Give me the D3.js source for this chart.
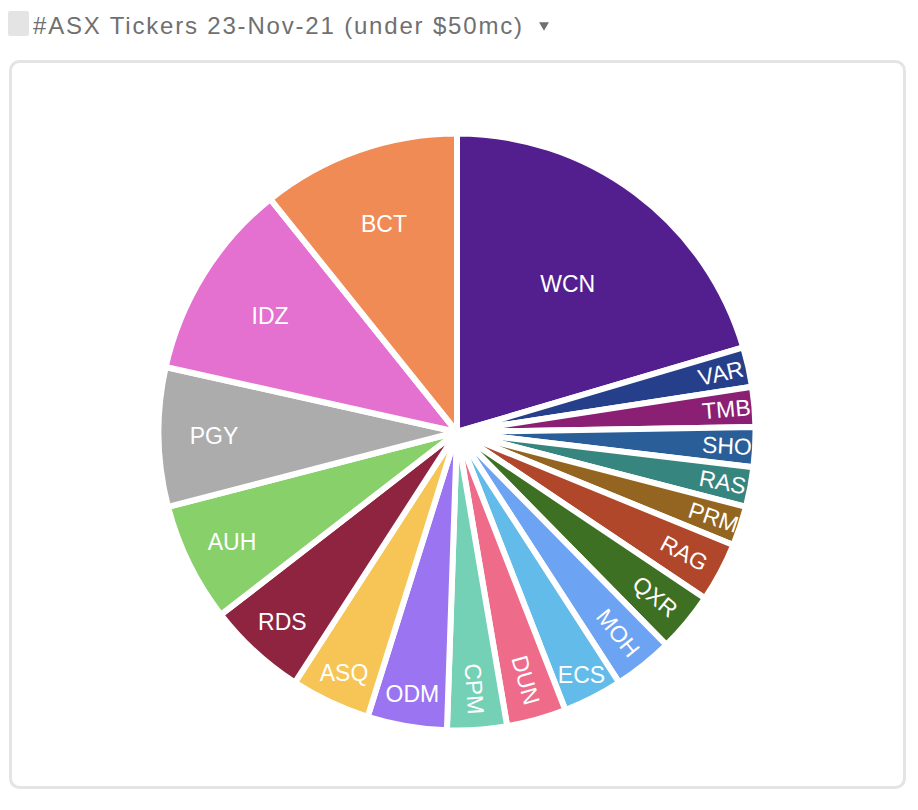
<!DOCTYPE html>
<meta charset="utf-8">
<style>
body { margin: 0; background: #fff; }
svg text { font-family: "Liberation Sans", Arial, Helvetica, sans-serif; }
.title { font-size: 24px; fill: #707070; }
.slice path { stroke: #fff; stroke-width: 6px; stroke-linejoin: round; }
.slice text { font-size: 23px; fill: #fff; }
</style>
<body>
<script src="https://d3js.org/d3.v7.min.js"></script>
<script>
// ticker mentions, in the order they are drawn (clockwise from 12 o'clock)
var tickers = ["WCN", "VAR", "TMB", "SHO", "RAS", "PRM", "RAG", "QXR", "MOH", "ECS",
               "DUN", "CPM", "ODM", "ASQ", "RDS", "AUH", "PGY", "IDZ", "BCT"];
var mentions = [19, 2, 2, 2, 2, 2, 3, 3, 3, 3, 3, 3, 4, 4, 5, 6, 7, 10, 10];
var sliceColors = ["#531f8e", "#263f8a", "#8b1f74", "#2a5e99", "#37857f", "#936520",
                   "#b0472b", "#3e7023", "#6da3f3", "#63bbe9", "#ef6b8a", "#74d1b5",
                   "#9b74f2", "#f6c555", "#8e2440", "#88d06a", "#acacac", "#e470d0", "#f08b56"];
var chartTitle = "#ASX Tickers 23-Nov-21 (under $50mc)";

var width = 918, height = 810;
var cx = 457, cy = 432, radius = 298.5;

var svg = d3.select("body").append("svg")
    .attr("width", width)
    .attr("height", height);

// header
svg.append("rect")
    .attr("x", 8).attr("y", 11)
    .attr("width", 21).attr("height", 25)
    .attr("rx", 2)
    .attr("fill", "#e4e4e4");

var titleWidth = 489;
svg.append("text")
    .attr("class", "title")
    .attr("x", 33).attr("y", 34)
    .attr("textLength", titleWidth)
    .attr("lengthAdjust", "spacing")
    .text(chartTitle);

svg.append("path")
    .attr("d", d3.symbol().type(d3.symbolTriangle).size(42))
    .attr("transform", "translate(" + (33 + titleWidth + 22) + ",25) rotate(180)")
    .attr("fill", "#707070");

// card
svg.append("rect")
    .attr("x", 10.5).attr("y", 61.5)
    .attr("width", 894).attr("height", 726)
    .attr("rx", 9)
    .attr("fill", "#fff")
    .attr("stroke", "#e4e4e4")
    .attr("stroke-width", 3);

var data = tickers.map(function(t, i) {
  return {ticker: t, value: mentions[i], color: sliceColors[i]};
});

var pie = d3.pie().sort(null).value(function(d) { return d.value; });
var arc = d3.arc().innerRadius(0).outerRadius(radius);

var g = svg.append("g")
    .attr("transform", "translate(" + cx + "," + cy + ")");

var slices = g.selectAll(".slice")
    .data(pie(data))
  .enter().append("g")
    .attr("class", "slice");

slices.append("path")
    .attr("d", arc)
    .attr("fill", function(d) { return d.data.color; });

var rIn = radius - 2.5;
var deg = 180 / Math.PI;

slices.append("text")
    .text(function(d) { return d.data.ticker; })
    .attr("dy", "0.35em")
    .each(function(d) {
      var t = d3.select(this);
      var span = d.endAngle - d.startAngle;
      var mid = (d.startAngle + d.endAngle) / 2;
      var w = this.getComputedTextLength();
      // horizontal label, pushed outwards for thin slices
      var rh = Math.max(0.625 * rIn, rIn - 112 * span);
      if (w <= rh * span - 7) {
        t.attr("text-anchor", "middle")
         .attr("x", rh * Math.sin(mid))
         .attr("y", -rh * Math.cos(mid));
      } else {
        // radial label reading outwards
        var rr = rIn - 190 * span;
        var rot = mid * deg - 90;
        if (mid > Math.PI) rot += 180;
        t.attr("text-anchor", "middle")
         .attr("transform", "translate(" + (rr * Math.sin(mid)) + "," + (-rr * Math.cos(mid)) + ") rotate(" + rot + ")");
      }
    });
</script>
</body>
